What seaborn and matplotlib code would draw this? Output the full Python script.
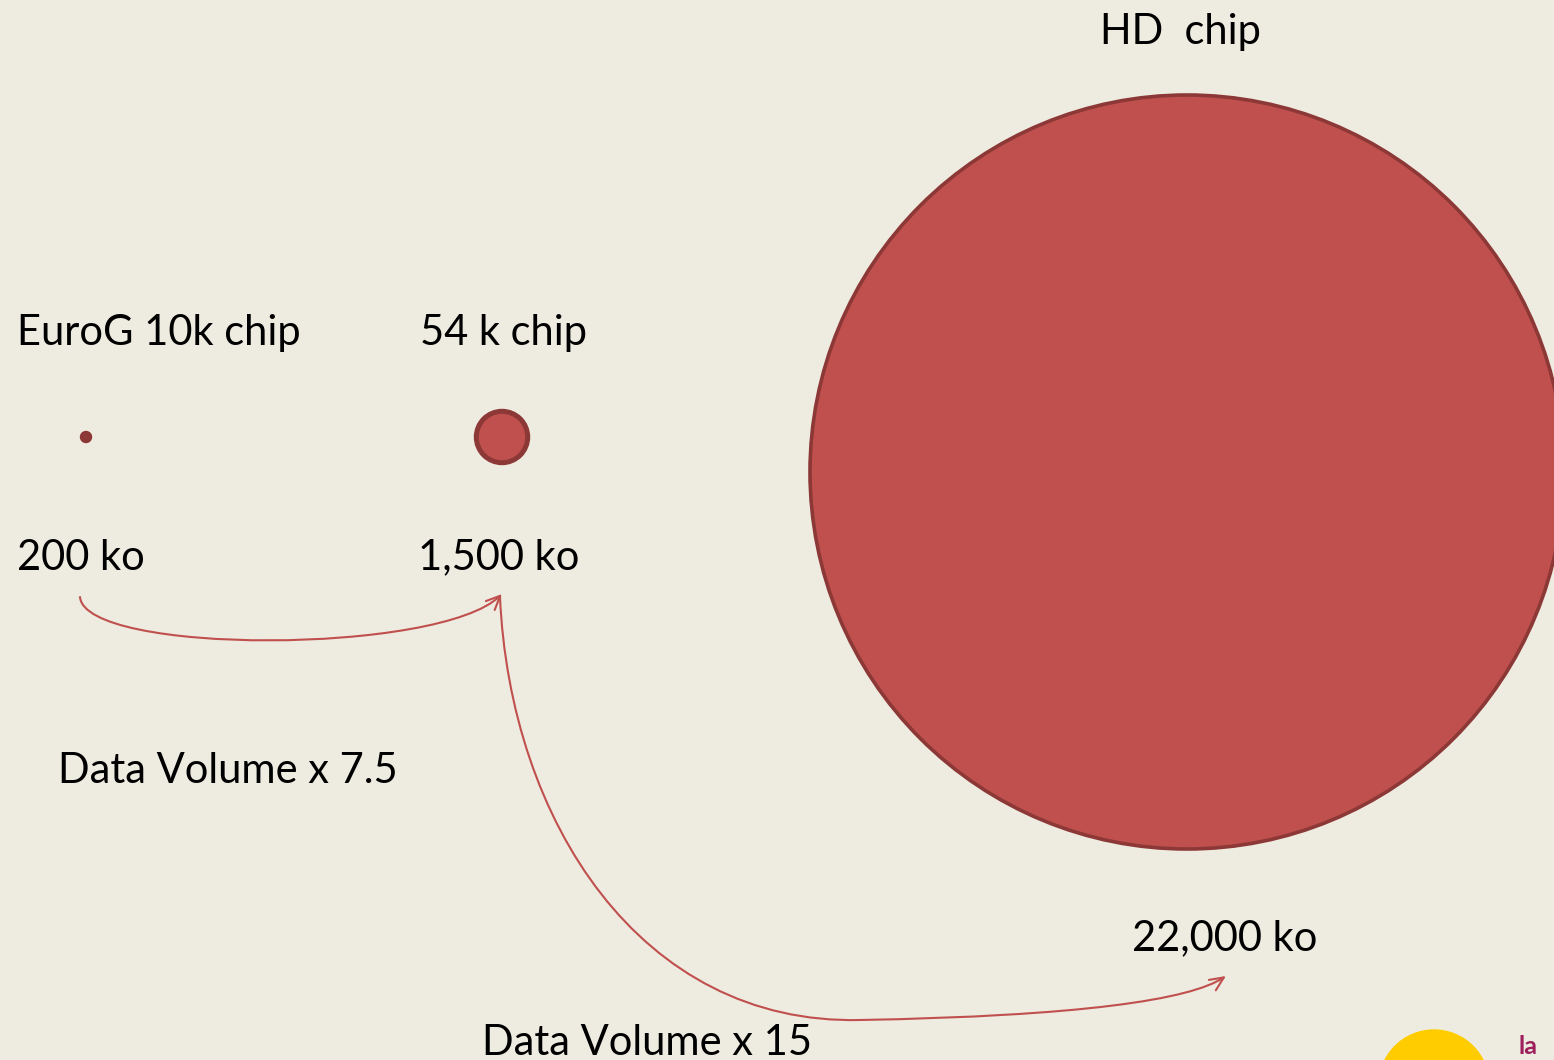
import numpy as np
import matplotlib
matplotlib.use("Agg")
import matplotlib.pyplot as plt
import seaborn as sns
from matplotlib.path import Path
from matplotlib.patches import FancyArrowPatch, Circle

# chip data (file size per sample)
chips = ["EuroG 10k chip", "54 k chip", "HD  chip"]
volume_ko = [200, 1500, 22000]
volume_labels = ["200 ko", "1,500 ko", "22,000 ko"]
ratio_labels = ["Data Volume x 7.5", "Data Volume x 15"]

# layout (pixel coordinates on a 1554x1060 canvas)
chip_x = [86, 502, 1187]
chip_y = [437, 437, 472]
edge_w = [4.0, 3.6, 2.6]
max_diam_pt = 754 * 72 / 100

bg = "#EEEBE1"
fill = "#C0504D"
edge = "#8C3836"

sns.set_theme(style="white")
plt.rcParams["font.family"] = ["Lato", "DejaVu Sans"]

fig = plt.figure(figsize=(15.54, 10.60), dpi=100, facecolor=bg)
ax = fig.add_axes([0, 0, 1, 1])
ax.set_facecolor(bg)
ax.set_xlim(0, 1554)
ax.set_ylim(1060, 0)
ax.axis("off")

sizes = [(v / max(volume_ko) * max_diam_pt) ** 2 for v in volume_ko]
sns.scatterplot(x=chip_x, y=chip_y, s=sizes, color=fill, edgecolor=edge,
                linewidth=2, legend=False, ax=ax, zorder=3)
ax.collections[-1].set_linewidths(edge_w)

fs = 30
txt = dict(fontsize=fs, va="baseline", color="black")
# chip names
ax.text(17, 345, chips[0], **txt)
ax.text(420, 345, chips[1], **txt)
ax.text(1100, 44, chips[2], **txt)
# volumes
ax.text(17, 570, volume_labels[0], **txt)
ax.text(418, 569, volume_labels[1], **txt)
ax.text(1132, 950, volume_labels[2], **txt)
# ratios
ax.text(58, 783, ratio_labels[0], **txt)
ax.text(482, 1055, ratio_labels[1], **txt)

# curved arrows
arrow_kw = dict(arrowstyle="->,head_length=10,head_width=4.5", color=fill,
                lw=1.5, zorder=2)
p1 = Path([(80, 597), (85, 655), (440, 655), (502, 594)],
          [Path.MOVETO, Path.CURVE4, Path.CURVE4, Path.CURVE4])
ax.add_patch(FancyArrowPatch(path=p1, **arrow_kw))
p2 = Path([(500, 597), (510, 820), (640, 1025), (860, 1020),
           (1080, 1016), (1190, 1000), (1226, 976)],
          [Path.MOVETO, Path.CURVE4, Path.CURVE4, Path.CURVE4,
           Path.CURVE4, Path.CURVE4, Path.CURVE4])
ax.add_patch(FancyArrowPatch(path=p2, **arrow_kw))

# partial logo at the bottom-right slide edge
ax.add_patch(Circle((1434, 1085), 55, color="#FFCC00", zorder=1))
ax.text(1519, 1054, "la", fontsize=18, color="#9E1F5C", va="baseline",
        fontweight="bold")

fig.savefig("out.png", dpi=100, facecolor=bg)
